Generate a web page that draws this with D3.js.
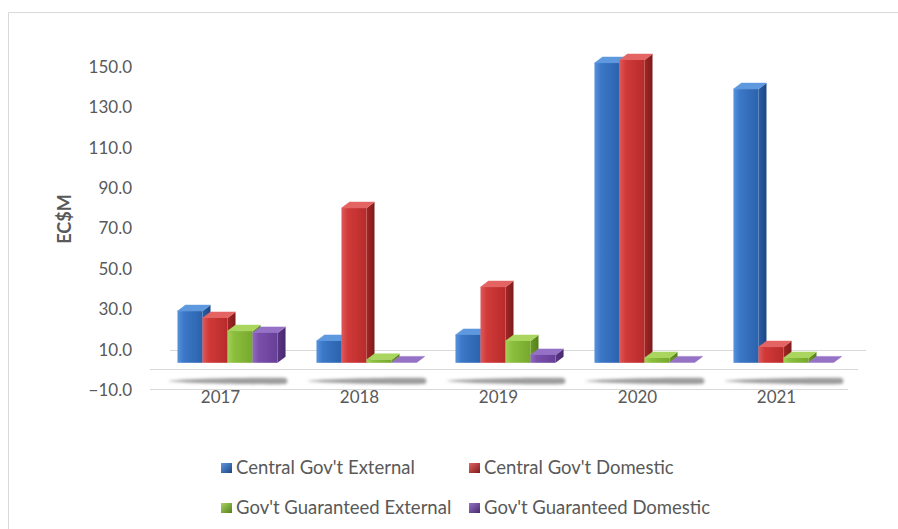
<!DOCTYPE html>
<html>
<head>
<meta charset="utf-8">
<script src="https://cdn.jsdelivr.net/npm/d3@7"></script>
<style>
  html, body { margin: 0; padding: 0; background: #fff; }
  svg { display: block; font-family: Lato, "Open Sans", sans-serif; }
</style>
</head>
<body>
<svg id="chart" width="898" height="529"></svg>
<script>
// Public debt by year, EC$ millions
const categories = ["2017", "2018", "2019", "2020", "2021"];
const seriesNames = [
  "Central Gov't External",
  "Central Gov't Domestic",
  "Gov't Guaranteed External",
  "Gov't Guaranteed Domestic"
];
const centralExternal    = [25.6, 10.8, 13.8, 148.4, 135.5];
const centralDomestic    = [22.2, 76.6, 37.5, 149.9, 7.8];
const guaranteedExternal = [15.7, 1.5, 10.8, 2.4, 2.4];
const guaranteedDomestic = [14.8, 0.2, 3.9, 0.2, 0.2];
const yTicks = [-10, 10, 30, 50, 70, 90, 110, 130, 150];

const seriesValues = [centralExternal, centralDomestic, guaranteedExternal, guaranteedDomestic];

// bevelled column shading per series
const shades = [
  { front: ["#5792dc", "#3b78c8", "#2c62ac"], top: "#5e98df", side: ["#2a5ea6", "#1c4683"] },
  { front: ["#e0595a", "#d03a39", "#b82b2b"], top: "#e46464", side: ["#a32726", "#7e1a1a"] },
  { front: ["#a3d158", "#8cbf3e", "#76a82c"], top: "#aad660", side: ["#6a9a24", "#557f1a"] },
  { front: ["#9169c2", "#7a4fac", "#663f96"], top: "#9672c6", side: ["#5a3587", "#472a6c"] }
];

const svg = d3.select("#chart");
const defs = svg.append("defs");

// chart frame
svg.append("path")
  .attr("d", "M8.5,529 V12.5 H898")
  .attr("fill", "none")
  .attr("stroke", "#d9d9d9")
  .attr("stroke-width", 1);

const y = d3.scaleLinear().domain([-10, 150]).range([390, 66.8]);
const x0 = d3.scaleBand().domain(categories).range([158, 853]).paddingInner(0.28).paddingOuter(0.14);
const x1 = d3.scaleBand().domain(d3.range(seriesNames.length)).range([0, x0.bandwidth()]);

const depthX = 8, depthY = 6;   // oblique depth of each column
const lift = 7;                 // columns sit on the floor, raised above the front axis line

shades.forEach((s, i) => {
  const g = defs.append("linearGradient").attr("id", "front" + i).attr("x1", 0).attr("x2", 1).attr("y1", 0).attr("y2", 0);
  g.append("stop").attr("offset", 0).attr("stop-color", s.front[0]);
  g.append("stop").attr("offset", 0.25).attr("stop-color", s.front[1]);
  g.append("stop").attr("offset", 1).attr("stop-color", s.front[2]);
  const sg = defs.append("linearGradient").attr("id", "side" + i).attr("x1", 0).attr("x2", 1).attr("y1", 0).attr("y2", 0);
  sg.append("stop").attr("offset", 0).attr("stop-color", s.side[0]);
  sg.append("stop").attr("offset", 1).attr("stop-color", s.side[1]);
  const lg = defs.append("linearGradient").attr("id", "key" + i).attr("x1", 0).attr("x2", 1).attr("y1", 0).attr("y2", 1);
  lg.append("stop").attr("offset", 0).attr("stop-color", s.top);
  lg.append("stop").attr("offset", 1).attr("stop-color", s.side[1]);
});

const blur = defs.append("filter").attr("id", "soft").attr("x", "-10%").attr("y", "-150%").attr("width", "120%").attr("height", "400%");
blur.append("feGaussianBlur").attr("stdDeviation", 1.5);

// gridline behind the columns
svg.append("line")
  .attr("x1", 170).attr("x2", 866)
  .attr("y1", Math.round(y(10)) + 0.5).attr("y2", Math.round(y(10)) + 0.5)
  .attr("stroke", "#d9d9d9");

// floor lines
svg.append("line")
  .attr("x1", 150).attr("x2", 858)
  .attr("y1", Math.round(y(0)) - 0.5).attr("y2", Math.round(y(0)) - 0.5)
  .attr("stroke", "#d9d9d9");
svg.append("line")
  .attr("x1", 150).attr("x2", 848)
  .attr("y1", Math.round(y(-10)) - 0.5).attr("y2", Math.round(y(-10)) - 0.5)
  .attr("stroke", "#d9d9d9");

// floor shadow beneath each category: tapered toward the left
svg.append("g").selectAll("path")
  .data(categories)
  .join("path")
  .attr("d", d => {
    const l = x0(d) - 10, r = x0(d) + x0.bandwidth() + 12, cy = 381;
    return `M${l},${cy} C${l + 30},${cy - 3} ${r - 20},${cy - 3.6} ${r - 4},${cy - 3}` +
           ` Q${r},${cy} ${r - 4},${cy + 3} C${r - 20},${cy + 3.6} ${l + 30},${cy + 3} ${l},${cy} Z`;
  })
  .attr("fill", "#9c9c9c")
  .attr("filter", "url(#soft)");

// y axis labels
const yAxis = d3.axisLeft(y).tickValues(yTicks).tickFormat(d3.format(".1f")).tickSize(0).tickPadding(0);
svg.append("g")
  .attr("transform", "translate(132,0)")
  .call(yAxis)
  .call(g => g.select(".domain").remove())
  .call(g => g.selectAll("text")
    .attr("fill", "#595959")
    .style("font-family", "Lato, 'Open Sans', sans-serif")
    .style("font-size", "17px"));

svg.append("text")
  .attr("transform", `translate(71,219) rotate(-90)`)
  .attr("text-anchor", "middle")
  .attr("fill", "#595959")
  .style("font-size", "18px")
  .style("font-weight", "bold")
  .text("EC$M");

// category labels
svg.append("g").selectAll("text")
  .data(categories)
  .join("text")
  .attr("x", d => x0(d) + x0.bandwidth() / 2 - 7)
  .attr("y", 403)
  .attr("text-anchor", "middle")
  .attr("fill", "#595959")
  .style("font-size", "17px")
  .text(d => d);

// columns, drawn left to right so each one covers its neighbour's side
const bars = [];
categories.forEach((c, ci) => {
  seriesValues.forEach((vals, si) => {
    bars.push({ cat: c, s: si, v: vals[ci] });
  });
});

const barG = svg.append("g");
bars.forEach(b => {
  const bx = x0(b.cat) + x1(b.s);
  const w = x1.bandwidth();
  const yt = y(b.v) - lift;
  const yb = y(0) - lift;
  const g = barG.append("g");
  // side face
  g.append("path")
    .attr("d", `M${bx + w},${yt} L${bx + w + depthX},${yt - depthY} L${bx + w + depthX},${yb - depthY} L${bx + w},${yb} Z`)
    .attr("fill", `url(#side${b.s})`);
  // top face
  g.append("path")
    .attr("d", `M${bx},${yt} L${bx + depthX},${yt - depthY} L${bx + w + depthX},${yt - depthY} L${bx + w},${yt} Z`)
    .attr("fill", shades[b.s].top)
    .attr("stroke", shades[b.s].top)
    .attr("stroke-width", 0.5)
    .attr("stroke-linejoin", "round");
  // front face
  if (yb - yt > 0.5) {
    g.append("rect")
      .attr("x", bx).attr("y", yt)
      .attr("width", w).attr("height", yb - yt)
      .attr("fill", `url(#front${b.s})`);
  }
});

// legend, two columns by two rows
const legendPos = [[221, 463], [469, 463], [221, 503], [469, 503]];
const legend = svg.append("g");
seriesNames.forEach((name, i) => {
  const [lx, ly] = legendPos[i];
  legend.append("rect")
    .attr("x", lx).attr("y", ly)
    .attr("width", 11).attr("height", 10)
    .attr("fill", `url(#key${i})`);
  legend.append("text")
    .attr("x", lx + 15)
    .attr("y", ly + 5)
    .attr("dy", "0.35em")
    .attr("fill", "#595959")
    .style("font-size", "18.5px")
    .text(name);
});
</script>
</body>
</html>
